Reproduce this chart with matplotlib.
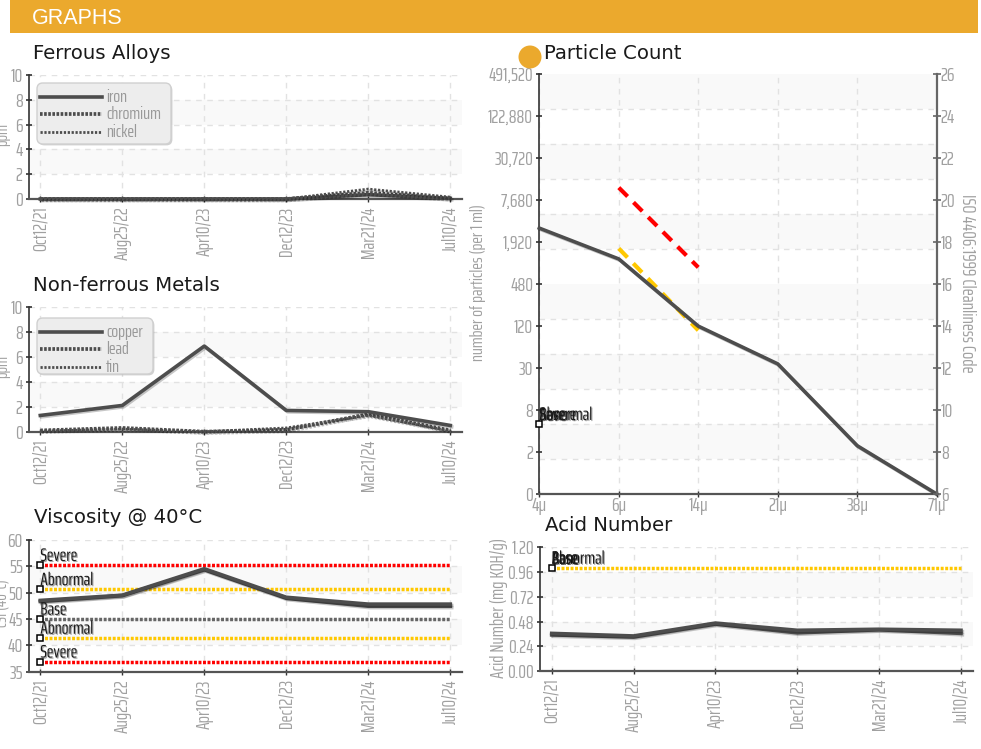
import numpy as np
import logging
import matplotlib
matplotlib.use("Agg")
import matplotlib.pyplot as plt
import matplotlib.patheffects as pe
from matplotlib.patches import FancyBboxPatch, Circle, Rectangle

dates = ["Oct12/21", "Aug25/22", "Apr10/23", "Dec12/23", "Mar21/24", "Jul10/24"]

iron = [0, 0, 0, 0, 0.35, 0.05]
chromium = [0, 0, 0, 0, 0.5, 0.05]
nickel = [0, 0, 0, 0, 0.8, 0.15]

copper = [1.3, 2.1, 6.85, 1.7, 1.6, 0.5]
lead = [0.1, 0.3, 0.0, 0.15, 1.4, 0.1]
tin = [0.05, 0.2, 0.0, 0.3, 1.3, 0.05]

visc_a = [48.5, 49.5, 54.5, 49.1, 47.8, 47.8]
visc_b = [48.3, 49.4, 54.3, 48.9, 47.4, 47.4]
visc_limits = [55.2, 50.6, 45.0, 41.4, 36.9]
visc_limit_names = ["Severe", "Abnormal", "Base", "Abnormal", "Severe"]

sizes = ["4\u03bc", "6\u03bc", "14\u03bc", "21\u03bc", "38\u03bc", "71\u03bc"]
iso_code = [18.67, 17.2, 14.0, 12.2, 8.3, 6.0]
iso_severe = [20.6, 16.8]
iso_abnormal = [17.7, 13.8]
iso_marker = 9.33
count_labels = ["0", "2", "8", "30", "120", "480", "1,920", "7,680", "30,720", "122,880", "491,520"]
code_labels = [6, 8, 10, 12, 14, 16, 18, 20, 22, 24, 26]

acid_a = [0.365, 0.34, 0.465, 0.395, 0.405, 0.395]
acid_b = [0.35, 0.33, 0.455, 0.37, 0.40, 0.365]
acid_limit = 1.0
acid_names = ["Abnormal", "Base", "Base"]

W, H = 981, 749
NARROW = ["Saira ExtraCondensed", "Liberation Sans", "DejaVu Sans"]
GRAY = "#a0a0a0"
DARK = "#4d4d4d"
YELLOW = "#ffc800"
RED = "#ff0000"
shadow = [pe.SimpleLineShadow(offset=(1, -1), alpha=0.22, shadow_color="k"), pe.Normal()]
text_shadow = [pe.SimplePatchShadow(offset=(0.8, -0.8), alpha=0.35, shadow_rgbFace="k"), pe.Normal()]
logging.getLogger("matplotlib.font_manager").setLevel(logging.ERROR)

fig = plt.figure(figsize=(W / 100, H / 100), dpi=100, facecolor="white")


def make_axes(x0, x1, ytop, ybot):
    return fig.add_axes([x0 / W, 1 - ybot / H, (x1 - x0) / W, (ybot - ytop) / H])


def px_text(x, y, s, **kw):
    return fig.text(x / W, 1 - y / H, s, **kw)


def style(ax, ymin, ymax, ticks, labels, bands, x0px, x1px, first, last, xl, fs=14):
    scale = (last - first) / 5
    ax.set_xlim((x0px - first) / scale, (x1px - first) / scale)
    ax.set_ylim(ymin, ymax)
    ax.set_facecolor("none")
    for a, b in bands:
        ax.axhspan(a, b, color="#f9f9f9", lw=0, zorder=0)
    ax.set_xticks(range(len(xl)))
    ax.set_yticks(ticks)
    ax.set_yticklabels(labels, family=NARROW, fontsize=fs, color=GRAY)
    ax.tick_params(axis="y", length=5, width=1.2, color="#333333", direction="inout", pad=2)
    ax.grid(True, color="#e2e2e2", ls=(0, (4, 4)), lw=1, zorder=1)
    ax.set_axisbelow(True)
    ax.spines["top"].set_visible(False)
    ax.spines["right"].set_visible(False)
    ax.spines["left"].set_color("#333333")
    ax.spines["left"].set_linewidth(1.2)
    ax.spines["bottom"].set_color("#555555")
    ax.spines["bottom"].set_linewidth(1.6)


def date_axis(ax):
    ax.set_xticklabels(dates, rotation=90, family=NARROW, fontsize=13.5, color=GRAY)
    ax.tick_params(axis="x", length=5, width=1, color="#333333", direction="inout", pad=3)


STYLES = {"solid": dict(lw=2.6, ls="-"),
          "dash": dict(lw=2.7, ls=(0, (0.7, 0.4))),
          "thin": dict(lw=2.0, ls=(0, (0.8, 0.6)))}


def series(ax, vals, kind):
    ax.plot(range(len(vals)), vals, color=DARK, clip_on=False, zorder=4,
            solid_joinstyle="round", path_effects=shadow, **STYLES[kind])


def limit(ax, v, c):
    ax.plot([0, 5], [v, v], color=c, lw=2.5, ls=(0, (0.85, 0.45)), dash_capstyle="butt", zorder=3)


def marker(ax, v):
    ax.plot([0], [v], marker="s", ms=4.6, mfc="white", mec="black", mew=1.1, ls="", zorder=6, clip_on=False)


def marker_label(ax, v, n):
    ax.annotate(n, (0, v), xytext=(0, 3), textcoords="offset points", family=NARROW, fontsize=13,
                color="#1a1a1a", path_effects=text_shadow, zorder=6, va="baseline")


def legend(ax, x, y, w, h, names):
    ax.add_patch(FancyBboxPatch((x / W, 1 - (y + h) / H), w / W, h / H, transform=fig.transFigure,
                                boxstyle="round,pad=0,rounding_size=0.006", fc="#ededed", ec="#d0d0d0",
                                lw=1, zorder=6, mutation_aspect=W / H, clip_on=False,
                                path_effects=[pe.SimplePatchShadow(offset=(1, -1), alpha=0.25), pe.Normal()]))
    kinds = ["solid", "dash", "thin"]
    for i, (n, k) in enumerate(zip(names, kinds)):
        yy = y + 13.5 + i * 17.7
        fig.add_artist(plt.Line2D([40 / W, 102 / W], [1 - yy / H] * 2, color=DARK, zorder=7, **STYLES[k]))
        px_text(106, yy, n, family=NARROW, fontsize=13, color="#999999", va="center", zorder=7)


# Header
fig.add_artist(Rectangle((10 / W, 1 - 33 / H), 968 / W, 33 / H, transform=fig.transFigure, fc="#eba92d", ec="none"))
px_text(32, 24.5, "GRAPHS", color="white", family="Liberation Sans", fontsize=15.5)

TITLE = dict(family="DejaVu Sans", fontsize=14.2, color="#1a1a1a")
px_text(33, 59, "Ferrous Alloys", **TITLE)
px_text(33, 291, "Non-ferrous Metals", **TITLE)
px_text(34, 523, "Viscosity @ 40\u00b0C", **TITLE)
px_text(544, 59, "Particle Count", **TITLE)
px_text(545, 531, "Acid Number", **TITLE)
fig.add_artist(Circle((530, H - 57), 11.5, transform=None, fc="#eba92d", ec="none"))

# Ferrous
ax = make_axes(29, 462, 75, 199)
style(ax, 0, 10, range(0, 11, 2), range(0, 11, 2), [(2, 4), (6, 8)], 29, 462, 40.3, 450.3, dates)
date_axis(ax)
series(ax, iron, "solid"); series(ax, chromium, "dash"); series(ax, nickel, "thin")
legend(ax, 37, 83, 134, 61, ["iron", "chromium", "nickel"])
px_text(2, 135, "ppm", rotation=90, family=NARROW, fontsize=12, color=GRAY, va="center", ha="center")

# Non-ferrous
ax = make_axes(29, 462, 306.7, 431.7)
style(ax, 0, 10, range(0, 11, 2), range(0, 11, 2), [(2, 4), (6, 8)], 29, 462, 40.3, 450.3, dates)
date_axis(ax)
series(ax, lead, "dash"); series(ax, tin, "thin"); series(ax, copper, "solid")
legend(ax, 37, 318, 116, 56, ["copper", "lead", "tin"])
px_text(2, 367, "ppm", rotation=90, family=NARROW, fontsize=12, color=GRAY, va="center", ha="center")

# Viscosity
ax = make_axes(29, 462, 539.7, 671.7)
style(ax, 35, 60, range(35, 61, 5), range(35, 61, 5), [(40, 45), (50, 55)], 29, 462, 40.3, 450.3, dates)
date_axis(ax)
lim_colors = [RED, YELLOW, "#666666", YELLOW, RED]
for v, n, c in zip(visc_limits, visc_limit_names, lim_colors):
    limit(ax, v, c)
    marker(ax, v)
    marker_label(ax, v, n)
series(ax, visc_b, "solid"); series(ax, visc_a, "solid")
px_text(2, 603, "cSt (40\u00b0C)", rotation=90, family=NARROW, fontsize=12, color=GRAY, va="center", ha="center")

# Particle count
ax = make_axes(539.3, 936.7, 74.3, 494)
bands = [(6 + 20 / 12 * k, 6 + 20 / 12 * (k + 1)) for k in range(1, 12, 2)]
style(ax, 6, 26, code_labels, count_labels, bands, 539.3, 936.7, 539.3, 936.7, sizes)
ax.set_yticks(np.linspace(6, 26, 13), minor=True)
ax.grid(False, axis="y", which="major")
ax.grid(True, axis="y", which="minor", color="#e2e2e2", ls=(0, (4, 4)), lw=1)
ax.tick_params(axis="y", which="minor", length=0)
ax.set_xticklabels(sizes, family=NARROW, fontsize=14, color=GRAY)
ax.tick_params(axis="x", length=5, width=1, color="#333333", direction="inout", pad=0)
ax.plot([1, 2], iso_severe, color=RED, lw=3, ls=(0, (3, 2)), zorder=3)
ax.plot([1, 2], iso_abnormal, color=YELLOW, lw=3, ls=(0, (3, 2)), zorder=3)
series(ax, iso_code, "solid")
marker(ax, iso_marker)
for n in ["Severe", "Abnormal", "Base"]:
    marker_label(ax, iso_marker, n)
axr = ax.twinx()
axr.set_ylim(6, 26)
axr.set_yticks(code_labels)
axr.set_yticklabels(code_labels, family=NARROW, fontsize=14, color=GRAY)
axr.tick_params(axis="y", length=6, width=1.2, color="#666666", direction="inout", pad=0)
for s in ["top", "left", "bottom"]:
    axr.spines[s].set_visible(False)
axr.spines["right"].set_color("#666666")
axr.spines["right"].set_linewidth(1.6)
px_text(478, 283, "number of particles (per 1 ml)", rotation=90, family=NARROW, fontsize=13, color=GRAY,
        va="center", ha="center")
px_text(967, 283, "ISO 4406:1999 Cleanliness Code", rotation=270, family=NARROW, fontsize=13.7, color=GRAY,
        va="center", ha="center")

# Acid
ax = make_axes(540, 972.7, 547.3, 671)
acid_ticks = [0, 0.24, 0.48, 0.72, 0.96, 1.20]
style(ax, 0, 1.2, acid_ticks, [f"{t:.2f}" for t in acid_ticks], [(0.24, 0.48), (0.72, 0.96)],
      540, 972.7, 551.7, 961, dates)
date_axis(ax)
limit(ax, acid_limit, YELLOW)
marker(ax, acid_limit)
for n in acid_names:
    marker_label(ax, acid_limit, n)
series(ax, acid_b, "solid"); series(ax, acid_a, "solid")
px_text(499, 607.5, "Acid Number (mg KOH/g)", rotation=90, family=NARROW, fontsize=13.5, color=GRAY,
        va="center", ha="center")

fig.savefig("out.png", dpi=100)
